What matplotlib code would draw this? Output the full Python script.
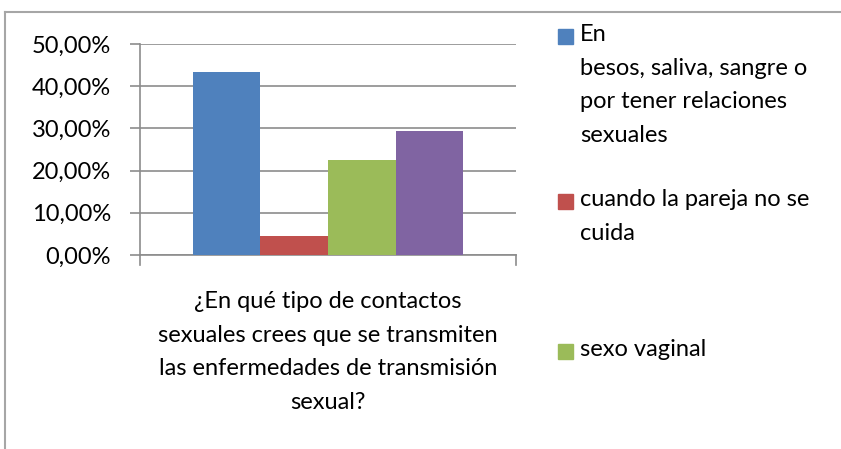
import matplotlib
matplotlib.use("Agg")
import matplotlib.pyplot as plt
from matplotlib.patches import Rectangle
from matplotlib.lines import Line2D
import numpy as np

plt.rcParams['font.family'] = ['Lato', 'DejaVu Sans']

category = "¿En qué tipo de contactos\nsexuales crees que se transmiten\nlas enfermedades de transmisión\nsexual?"
series_labels = ["En\nbesos, saliva, sangre o\npor tener relaciones\nsexuales",
                 "cuando la pareja no se\ncuida",
                 "sexo vaginal",
                 "sexo anal"]
values = [43.4, 4.6, 22.4, 29.4]
colors = ["#4f81bd", "#c0504d", "#9bbb59", "#8064a2"]
yticks = [0, 10, 20, 30, 40, 50]
ytick_labels = ["0,00%", "10,00%", "20,00%", "30,00%", "40,00%", "50,00%"]

FS = 17
LS = 1.74
W, H = 841, 449
fig = plt.figure(figsize=(W / 100, H / 100), dpi=100)
ax = fig.add_axes([140 / W, (H - 255) / H, (516 - 140) / W, (255 - 44) / H])

bw = 0.18
n = len(values)
xs = (np.arange(n) - (n - 1) / 2) * bw
ax.bar(xs, values, width=bw, color=colors, edgecolor='none', zorder=3)
ax.set_xlim(-0.5, 0.5)
ax.set_ylim(0, 50)
ax.set_yticks(yticks)
ax.set_yticklabels(ytick_labels, fontsize=FS)
ax.yaxis.grid(True, color='#8c8c8c', linewidth=1.2, zorder=0)
ax.set_xticks([0])
ax.set_xticklabels([category], fontsize=FS, linespacing=LS)
ax.tick_params(axis='x', length=0, pad=26)
ax.tick_params(axis='y', length=7, width=1.2, color='#8c8c8c', pad=14)
for s in ['top', 'right']:
    ax.spines[s].set_visible(False)
ax.spines['left'].set_color('#8c8c8c')
ax.spines['left'].set_linewidth(1.2)
ax.spines['bottom'].set_color('#8c8c8c')
ax.spines['bottom'].set_linewidth(1.2)
for xe in [-0.5, 0.5]:
    ax.plot([xe, xe], [0, -2.3], color='#8c8c8c', lw=1.2, clip_on=False, zorder=4)

# legend (manual placement, as in reference; last entry cut off)
leg_y = [24, 189, 339]
for lab, col, yy in zip(series_labels[:3], colors[:3], leg_y):
    fig.patches.append(Rectangle((558 / W, (H - yy - 20) / H), 15 / W, 15 / H,
                                 transform=fig.transFigure, color=col))
    fig.text(580 / W, (H - yy) / H, lab, fontsize=FS, va='top', ha='left', linespacing=LS)

# outer border (left and top visible)
fig.add_artist(Line2D([5 / W, 5 / W], [0, (H - 12) / H], transform=fig.transFigure, color='#a6a6a6', lw=1.5))
fig.add_artist(Line2D([5 / W, 1], [(H - 12) / H, (H - 12) / H], transform=fig.transFigure, color='#a6a6a6', lw=1.5))

fig.savefig("out.png", dpi=100)
